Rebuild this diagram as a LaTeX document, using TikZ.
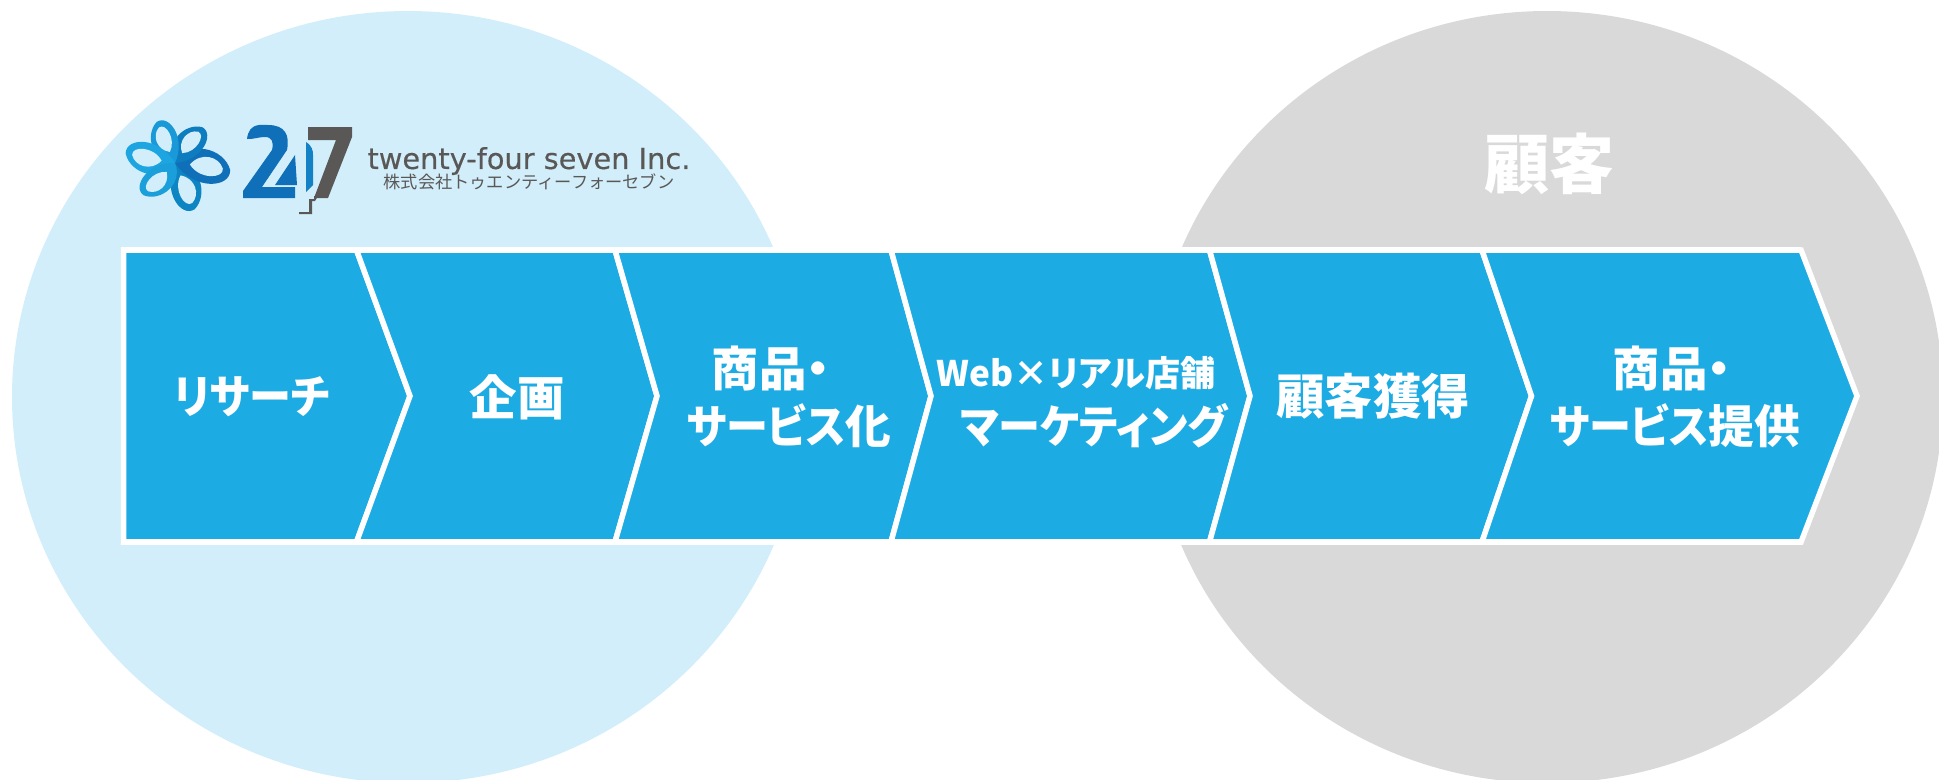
\documentclass[tikz,border=0pt]{standalone}
\usepackage{fontspec}
\setmainfont{DejaVu Sans}
\newfontfamily\logofont[FakeBold=0.35]{DejaVu Sans}
\newfontfamily\cjkfont[RawFeature=+palt]{Noto Sans CJK JP}
\newfontfamily\kanafont[RawFeature=+palt,FakeStretch=0.92]{Noto Sans CJK JP}
\newfontfamily\cjkplain{Noto Sans CJK JP}
\definecolor{circleblue}{HTML}{D2EEFA}
\definecolor{circlegray}{HTML}{D9D9D9}
\definecolor{stepblue}{HTML}{1DABE4}
\definecolor{logoblue}{HTML}{0F6FB8}
\definecolor{logogray}{HTML}{5A5857}
\begin{document}
\begin{tikzpicture}[x=0.02cm,y=-0.02cm]
\tikzset{ inner sep=0pt, outer sep=0pt,
  steplabel/.style={text=white, align=center, font=\cjkfont\bfseries\fontsize{27}{32}\selectfont},
  kanalabel/.style={text=white, align=center, font=\kanafont\bfseries\fontsize{26}{32}\selectfont},
  stepbox/.style={fill=stepblue, draw=white, line width=0.11cm, line join=miter},
  petal/.pic={
    \fill [pic actions] (0,0) .. controls (6,-26) and (40,-28) .. (52,-10) .. controls (58,6) and (26,20) .. (0,0) -- cycle;
  },
  petalhole/.pic={
    \fill [circleblue] (14,-3) .. controls (20,-18) and (38,-19) .. (45,-9) .. controls (49,0) and (27,8) .. (14,-3) -- cycle;
  },
}
\useasboundingbox (0,0) rectangle (1939,779);

% circles
\fill [circleblue] (408,397) ellipse [x radius=396, y radius=386];
\fill [circlegray] (1547,397) ellipse [x radius=396, y radius=386];

% chevrons
\foreach \xa/\xb/\xc/\xd in {
   123.5/123.5/356.5/410,
   356.5/410/615/657,
   615/657/891/931,
   891/931/1209.5/1250,
   1209.5/1250/1482/1531.5,
   1482/1531.5/1801/1857}
  \draw [stepbox] (\xa,250) -- (\xc,250) -- (\xd,396) -- (\xc,542) -- (\xa,542) -- (\xb,396) -- cycle;
\draw [white, line width=0.12cm] (121,250) -- (1801,250);
\draw [white, line width=0.12cm] (121,542) -- (1801,542);

\node [kanalabel] (research) at (252,397) {リサーチ};
\node [steplabel] (plan) at (517,397) {企画};
\node [steplabel] (goods) at (771,368) {商品・};
\node [kanalabel] (service) at (789,426) {サービス{\cjkfont 化}};
\node [steplabel, font=\cjkfont\bfseries\fontsize{20}{24}\selectfont] (web) at (1076,373) {Web×リアル店舗};
\node [kanalabel] (marketing) at (1094,426) {マーケティング};
\node [steplabel, font=\cjkfont\bfseries\fontsize{27.5}{32}\selectfont] (acquire) at (1373,396) {顧客獲得};
\node [steplabel] (goodstwo) at (1672,368) {商品・};
\node [kanalabel] (provide) at (1675,426) {サービス{\cjkfont 提供}};
\node [steplabel, font=\cjkfont\bfseries\fontsize{37}{42}\selectfont] (customer) at (1549,164) {顧客};

% logo
\foreach \ang/\len/\col in {-78/0.95/logoblue!85!cyan, -18/1.05/logoblue, 42/0.85/logoblue!90!cyan, 103/0.85/stepblue!70!logoblue, 158/0.95/stepblue!90!logoblue, 215/0.85/stepblue!80!logoblue}
  \pic [fill=\col, rotate=\ang, scale=\len] at (175,163) {petal};
\foreach \ang/\len in {-78/0.95, -18/1.05, 42/0.85, 103/0.85, 158/0.95, 215/0.85}
  \pic [rotate=\ang, scale=\len] at (175,163) {petalhole};

\fill [logoblue] (247,139) .. controls (249,122) and (262,125) .. (268,125)
  .. controls (285,125) and (290,135) .. (287,150) -- (262,187) -- (295,187) -- (295,198) -- (243,198) -- (243,191)
  -- (272,150) .. controls (274,142) and (272,137) .. (265,137) .. controls (258,137) and (256,139) .. (247,139) -- cycle;
\fill [logoblue] (295,155) -- (297,185) -- (275,185) -- cycle;
\fill [logoblue!70!stepblue] (306,142) .. controls (312,146) and (313,150) .. (313,155) -- (313,185) -- (306,192) -- cycle;
\fill [logogray] (308,127) -- (352,127) -- (352,137) -- (328,198) -- (314,198) -- (336,140) -- (308,140) -- cycle;
\fill [logogray] (314,196) -- (318,196) -- (315,201) -- (312,201) -- (312,214) -- (299,214) -- (299,212) -- (309,212) -- (309,199) -- (314,199) -- cycle;

\node [text=logogray, font=\logofont\fontsize{16.4}{18}\selectfont] (logoname) at (529,161) {twenty-four seven Inc.};
\node [text=logogray, font=\cjkplain\fontsize{9.8}{12}\selectfont] (logokana) at (529,182) {株式会社トゥエンティーフォーセブン};
\end{tikzpicture}
\end{document}
